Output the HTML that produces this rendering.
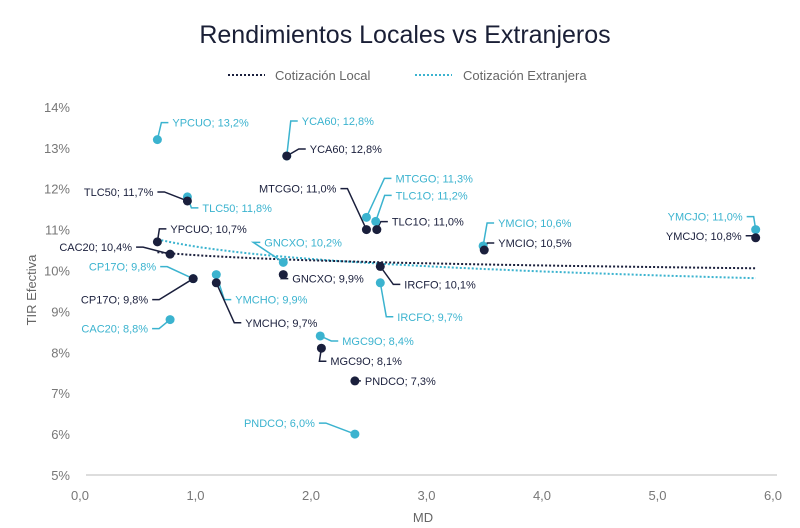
<!DOCTYPE html>
<html><head><meta charset="utf-8"><style>
body{margin:0;background:#fff;}
svg{display:block;font-family:"Liberation Sans",sans-serif;}
</style></head><body>
<svg id="chart" width="800" height="528" viewBox="0 0 800 528">
<text x="405" y="43" text-anchor="middle" font-size="25" fill="#1a1f36">Rendimientos Locales vs Extranjeros</text>
<g>
<g>
<line x1="228" y1="75" x2="265" y2="75" stroke="#1a1f3c" stroke-width="2" stroke-dasharray="2,2"/>
<text x="275" y="80" font-size="13" fill="#666">Cotización Local</text></g>
<g>
<line x1="415" y1="75" x2="452" y2="75" stroke="#3bb3cf" stroke-width="2" stroke-dasharray="2,2"/>
<text x="463" y="80" font-size="13" fill="#666">Cotización Extranjera</text></g>
</g>
<text transform="translate(36,290) rotate(-90)" text-anchor="middle" font-size="13" fill="#666">TIR Efectiva</text>
<text x="423" y="522" text-anchor="middle" font-size="13" fill="#666">MD</text>
<line x1="86" y1="475" x2="777" y2="475" stroke="#ddd" stroke-width="2"/>
<g id="ticks"></g><g id="trends"></g><g id="leaders"></g><g id="points"></g><g id="labels"></g>
</svg>
<script>
const names = ["YPCUO","CAC20","TLC50","CP17O","YMCHO","YCA60","GNCXO","MGC9O","PNDCO","MTCGO","TLC1O","IRCFO","YMCIO","YMCJO"];
const mdLocal = [0.67,0.78,0.93,0.98,1.18,1.79,1.76,2.09,2.38,2.48,2.57,2.60,3.50,5.85];
const tirLocal = [10.7,10.4,11.7,9.8,9.7,12.8,9.9,8.1,7.3,11.0,11.0,10.1,10.5,10.8];
const mdExt = [0.67,0.78,0.93,0.98,1.18,1.79,1.76,2.08,2.38,2.48,2.56,2.60,3.49,5.85];
const tirExt = [13.2,8.8,11.8,9.8,9.9,12.8,10.2,8.4,6.0,11.3,11.2,9.7,10.6,11.0];
const xTicks = [0,1,2,3,4,5,6];
const yTicks = [5,6,7,8,9,10,11,12,13,14];
// label offsets (style): [dx, dy, anchor]
const offL = [[13,-13,"s"],[-38,-7,"e"],[-34,-9,"e"],[-45,21,"e"],[29,40,"s"],[23,-7,"s"],[9,4,"s"],[9,13,"s"],[10,0,"s"],[-30,-41,"e"],[15,-8,"s"],[24,18,"s"],[14,-7,"s"],[-14,-2,"e"]];
const offE = [[15,-17,"s"],[-22,9,"e"],[15,11,"s"],[-37,-12,"e"],[19,25,"s"],[15,-35,"s"],[-19,-20,"s"],[22,5,"s"],[-40,-11,"e"],[29,-39,"s"],[20,-26,"s"],[17,34,"s"],[15,-23,"s"],[-13,-13,"e"]];
const X = v => 80 + v * 115.5;
const Y = v => 475 - (v - 5) * 40.9;
const NS = "http://www.w3.org/2000/svg";
function mk(tag, attrs, parent){const e=document.createElementNS(NS,tag);for(const k in attrs)e.setAttribute(k,attrs[k]);document.getElementById(parent).appendChild(e);return e;}
const fmt = v => v.toFixed(1).replace(".",",");
xTicks.forEach(t=>{const e=mk("text",{x:X(t),y:500,"text-anchor":"middle","font-size":13,fill:"#777"},"ticks");e.textContent=fmt(t);

});
yTicks.forEach(t=>{const e=mk("text",{x:70,y:Y(t)+5,"text-anchor":"end","font-size":13,fill:"#777"},"ticks");e.textContent=t+"%";

});
function trend(xs, ys, color, name){
  const n=xs.length;const lx=xs.map(Math.log);
  const mx=lx.reduce((a,b)=>a+b)/n,my=ys.reduce((a,b)=>a+b)/n;
  let sxy=0,sxx=0;lx.forEach((x,i)=>{sxy+=(x-mx)*(ys[i]-my);sxx+=(x-mx)**2;});
  const b=sxy/sxx,a=my-b*mx;const x0=Math.min(...xs),x1=Math.max(...xs);
  let d="";for(let i=0;i<=40;i++){const x=x0+(x1-x0)*i/40;d+=(i?"L":"M")+X(x).toFixed(1)+","+Y(a+b*Math.log(x)).toFixed(1);}
  const p=mk("path",{d:d,fill:"none",stroke:color,"stroke-width":2,"stroke-dasharray":"2,2"},"trends");
  
  
}
trend(mdExt,tirExt,"#3bb3cf","trend-extranjera");
trend(mdLocal,tirLocal,"#1a1f3c","trend-local");
function series(xs, ys, offs, color, key){
  xs.forEach((x,i)=>{
    const px=X(x),py=Y(ys[i]);const [dx,dy,an]=offs[i];
    const lx=px+dx,ly=py+dy;const ex=an==="s"?lx-4:lx+4;const ex2=an==="s"?ex-7:ex+7;
    const l=mk("polyline",{points:`${px},${py} ${ex2},${ly} ${ex},${ly}`,fill:"none",stroke:color,"stroke-width":1.5},"leaders");
    
    
    const c=mk("circle",{cx:px,cy:py,r:4.5,fill:color},"points");
    
    
    const t=mk("text",{x:lx,y:ly+4,"text-anchor":an==="s"?"start":"end","font-size":11,fill:color},"labels");
    t.textContent=names[i]+"; "+fmt(ys[i])+"%";
    
    
  });
}
series(mdExt,tirExt,offE,"#3bb3cf","ext");
series(mdLocal,tirLocal,offL,"#1a1f3c","local");
</script>
</body></html>
